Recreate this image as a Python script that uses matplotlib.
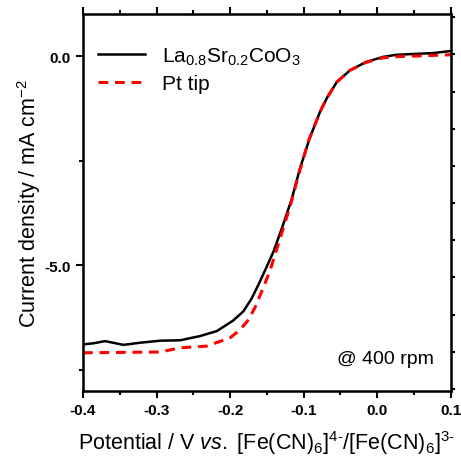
import matplotlib
matplotlib.use("Agg")
import matplotlib.pyplot as plt
from matplotlib.ticker import MultipleLocator

plt.rcParams['font.family'] = ['Liberation Sans', 'DejaVu Sans']
plt.rcParams['mathtext.fontset'] = 'custom'
plt.rcParams['mathtext.rm'] = 'Liberation Sans'
plt.rcParams['mathtext.it'] = 'Liberation Sans:italic'
plt.rcParams['mathtext.bf'] = 'Liberation Sans:bold'

# La0.8Sr0.2CoO3 curve
lsc_x = [-0.400, -0.385, -0.370, -0.345, -0.323, -0.295, -0.268, -0.241, -0.218,
         -0.196, -0.182, -0.171, -0.162, -0.152, -0.141, -0.128, -0.116, -0.105,
         -0.092, -0.078, -0.069, -0.055, -0.037, -0.015, 0.008, 0.026, 0.050,
         0.075, 0.100]
lsc_y = [-6.89, -6.86, -6.81, -6.90, -6.85, -6.80, -6.79, -6.69, -6.57,
         -6.32, -6.10, -5.80, -5.48, -5.10, -4.67, -4.03, -3.40, -2.68,
         -1.97, -1.34, -1.02, -0.62, -0.34, -0.14, -0.02, 0.03, 0.05,
         0.07, 0.12]

# Pt tip curve
pt_x = [-0.400, -0.350, -0.295, -0.268, -0.232, -0.200, -0.187, -0.175, -0.166,
        -0.157, -0.146, -0.132, -0.118, -0.107, -0.094, -0.078, -0.069, -0.055,
        -0.037, -0.015, 0.008, 0.031, 0.067, 0.100]
pt_y = [-7.09, -7.08, -7.07, -6.97, -6.93, -6.73, -6.55, -6.30, -6.00,
        -5.62, -5.14, -4.35, -3.56, -2.84, -2.05, -1.34, -1.02, -0.62,
        -0.34, -0.15, -0.04, -0.01, 0.01, 0.03]

x_ticks = [-0.4, -0.3, -0.2, -0.1, 0.0, 0.1]
x_labels = ['-0.4', '-0.3', '-0.2', '-0.1', '0.0', '0.1']
y_ticks = [0.0, -5.0]
y_labels = ['0.0', '-5.0']

fig = plt.figure(figsize=(4.61, 4.60), dpi=100)
ax = fig.add_axes([0.180, 0.148, 0.798, 0.819])

ax.plot(lsc_x, lsc_y, color='black', lw=1.8, label=r'La$_{0.8}$Sr$_{0.2}$CoO$_3$')
ax.plot(pt_x, pt_y, color='#ff0000', lw=2.2, ls=(0, (3.2, 2.2)), label='Pt tip')

ax.set_xlim(-0.4, 0.1)
ax.set_ylim(-8.0, 1.0)
ax.set_xticks(x_ticks, x_labels, fontweight='bold', fontsize=11)
ax.set_yticks(y_ticks, y_labels, fontweight='bold', fontsize=11)
ax.xaxis.set_minor_locator(MultipleLocator(0.05))
ax.yaxis.set_minor_locator(MultipleLocator(2.5))

ax.tick_params(which='major', direction='out', length=5, width=1.5, top=True, right=False, pad=4)
ax.tick_params(which='minor', direction='out', length=3, width=1.5, top=True, right=False)
for s in ax.spines.values():
    s.set_linewidth(1.8)

# Right axis with its own tick spacing
ax2 = ax.twinx()
ax2.set_ylim(-0.05, 10.08)
ax2.yaxis.set_major_locator(MultipleLocator(1))
ax2.tick_params(axis='y', direction='out', length=3, width=1.5, labelright=False)

ax.set_xlabel(r'Potential / V $\mathit{vs.}$ [Fe(CN)$_6$]$^{4\text{-}}$/[Fe(CN)$_6$]$^{3\text{-}}$',
              fontsize=15.5, labelpad=8)
ax.set_ylabel(r'Current density / mA cm$^{-2}$', fontsize=15.5, labelpad=1)

leg = ax.legend(loc='upper left', bbox_to_anchor=(0.0, 0.955), frameon=False,
                fontsize=15, handlelength=2.3, handletextpad=0.8, labelspacing=0.35,
                borderaxespad=0.3)

ax.text(0.955, 0.085, '@ 400 rpm', transform=ax.transAxes, ha='right', va='center', fontsize=14)

fig.savefig('out.png', dpi=100)
